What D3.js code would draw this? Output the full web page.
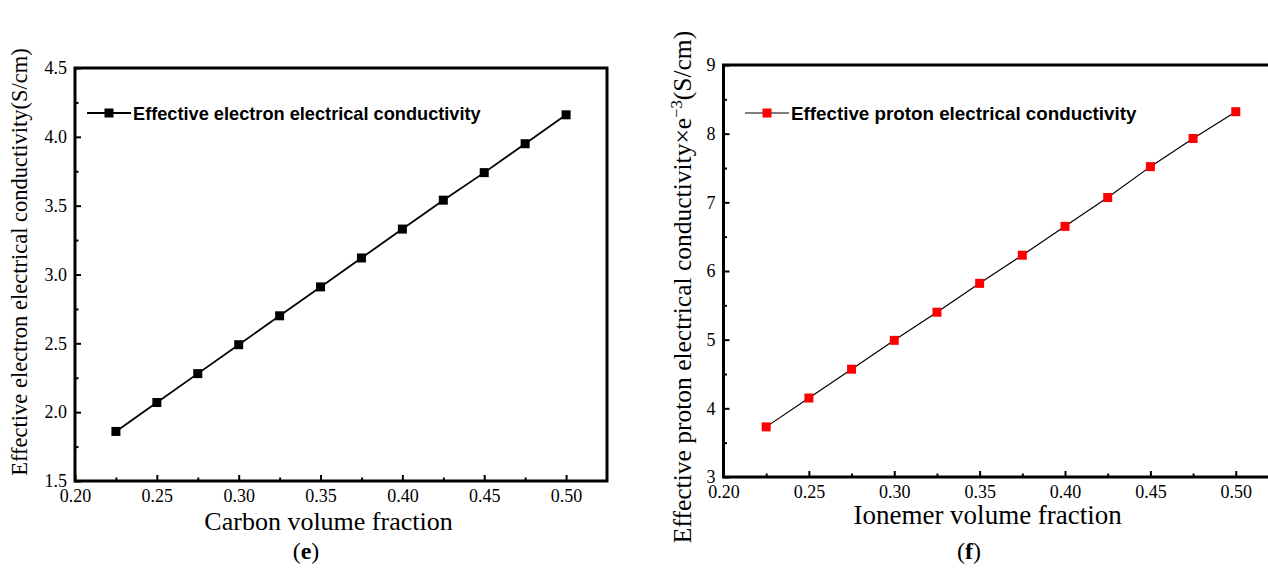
<!DOCTYPE html>
<html>
<head>
<meta charset="utf-8">
<script src="https://cdn.jsdelivr.net/npm/d3@7"></script>
<style>
  body { margin: 0; background: #fff; }
  svg { display: block; }
  .tick text { font-family: 'Liberation Serif', 'Times New Roman', serif; font-size: 18px; }
</style>
</head>
<body>
<div id="chart"></div>
<script>
/* Effective electron / proton conductivity vs volume fraction, panels (e) and (f) */

const fractions = [0.225, 0.25, 0.275, 0.30, 0.325, 0.35, 0.375, 0.40, 0.425, 0.45, 0.475, 0.50];
const electronValues = [1.86, 2.07, 2.28, 2.49, 2.70, 2.91, 3.12, 3.33, 3.54, 3.74, 3.95, 4.16];
const protonValues = [3.73, 4.15, 4.57, 4.99, 5.40, 5.82, 6.23, 6.65, 7.07, 7.52, 7.93, 8.32];
const xTicks = [0.20, 0.25, 0.30, 0.35, 0.40, 0.45, 0.50];
const xMinorTicks = [0.225, 0.275, 0.325, 0.375, 0.425, 0.475];
const electronTicks = [1.5, 2.0, 2.5, 3.0, 3.5, 4.0, 4.5];
const electronMinor = [1.75, 2.25, 2.75, 3.25, 3.75, 4.25];
const protonTicks = [3, 4, 5, 6, 7, 8, 9];
const protonMinor = [3.5, 4.5, 5.5, 6.5, 7.5, 8.5];

const width = 1268,
      height = 585;

const serif = "'Liberation Serif', 'Times New Roman', serif";

let svg = d3.select("#chart")
    .append("svg")
    .attr("width", width)
    .attr("height", height);

function drawPanel(p) {
    let x = d3.scaleLinear().domain(p.xDomain).range([p.left, p.right]);
    let y = d3.scaleLinear().domain(p.yDomain).range([p.bottom, p.top]);
    let g = svg.append("g");

    // minor + major ticks, pointing inward
    g.append("g")
        .attr("transform", `translate(0,${p.bottom})`)
        .call(d3.axisBottom(x).tickValues(xMinorTicks).tickSize(-3.5).tickFormat(""))
        .call(a => a.select(".domain").remove());
    g.append("g")
        .attr("transform", `translate(0,${p.bottom})`)
        .call(d3.axisBottom(x).tickValues(xTicks).tickSize(-6).tickPadding(8).tickFormat(d3.format(".2f")))
        .call(a => a.select(".domain").remove())
        .call(a => a.attr("font-family", serif).attr("font-size", 18));
    g.append("g")
        .attr("transform", `translate(${p.left},0)`)
        .call(d3.axisLeft(y).tickValues(p.yMinor).tickSize(-3.5).tickFormat(""))
        .call(a => a.select(".domain").remove());
    g.append("g")
        .attr("transform", `translate(${p.left},0)`)
        .call(d3.axisLeft(y).tickValues(p.yTicks).tickSize(-6).tickPadding(8).tickFormat(p.yFormat))
        .call(a => a.select(".domain").remove())
        .call(a => a.attr("font-family", serif).attr("font-size", 18));

    g.selectAll(".tick line").attr("stroke", "#000").attr("stroke-width", 2);
    g.selectAll(".tick text").attr("fill", "#000");

    // frame
    g.append("rect")
        .attr("x", p.left)
        .attr("y", p.top)
        .attr("width", p.right - p.left)
        .attr("height", p.bottom - p.top)
        .attr("fill", "none")
        .attr("stroke", "#000")
        .attr("stroke-width", 3);

    // series
    let line = d3.line().x(d => x(d[0])).y(d => y(d[1]));
    let pts = p.xs.map((v, i) => [v, p.ys[i]]);
    g.append("path")
        .datum(pts)
        .attr("d", line)
        .attr("fill", "none")
        .attr("stroke", "#000")
        .attr("stroke-width", p.lineWidth);
    g.selectAll(".pt")
        .data(pts)
        .join("rect")
        .attr("x", d => x(d[0]) - 4.5)
        .attr("y", d => y(d[1]) - 4.5)
        .attr("width", 9)
        .attr("height", 9)
        .attr("fill", p.color);

    // legend
    g.append("line")
        .attr("x1", p.legX).attr("x2", p.legX + 44)
        .attr("y1", p.legY).attr("y2", p.legY)
        .attr("stroke", "#000").attr("stroke-width", p.lineWidth);
    g.append("rect")
        .attr("x", p.legX + 22 - 4.5).attr("y", p.legY - 4.5)
        .attr("width", 9).attr("height", 9)
        .attr("fill", p.color);
    g.append("text")
        .attr("x", p.legX + 46)
        .attr("y", p.legY + 6.5)
        .style("font-family", "'Liberation Sans', Arial, sans-serif")
        .style("font-weight", "bold")
        .style("font-size", p.legSize + "px")
        .text(p.legend);

    // axis titles
    g.append("text")
        .attr("x", (x(0.20) + x(0.50)) / 2 + p.xTitleShift)
        .attr("y", p.bottom + p.xTitleDy)
        .attr("text-anchor", "middle")
        .style("font-family", serif)
        .style("font-size", p.xTitleSize + "px")
        .text(p.xTitle);

    let yt = g.append("text")
        .attr("transform", `translate(${p.yTitleX},${p.yTitleY}) rotate(-90)`)
        .attr("text-anchor", "middle")
        .style("font-family", serif)
        .style("font-size", p.yTitleSize + "px");
    p.yTitle.forEach(part => {
        let ts = yt.append("tspan").text(part.t);
        if (part.sup) ts.attr("baseline-shift", "super").style("font-size", "0.65em");
    });

    // panel label
    let lab = g.append("text")
        .attr("x", p.labelX)
        .attr("y", 559)
        .attr("text-anchor", "middle")
        .style("font-family", serif)
        .style("font-size", "24px");
    lab.append("tspan").text("(");
    lab.append("tspan").style("font-weight", "bold").text(p.label);
    lab.append("tspan").text(")");
}

drawPanel({
    xDomain: [0.20, 0.525], yDomain: [1.5, 4.5],
    left: 75, right: 607, top: 68, bottom: 481,
    xs: fractions, ys: electronValues,
    yTicks: electronTicks, yMinor: electronMinor, yFormat: d3.format(".1f"),
    color: "#000", lineWidth: 1.8,
    legX: 87, legY: 113, legSize: 18.2, legend: "Effective electron electrical conductivity",
    xTitle: "Carbon volume fraction", xTitleShift: 8, xTitleSize: 26, xTitleDy: 49,
    yTitle: [{t: "Effective electron electrical conductivity(S/cm)"}],
    yTitleX: 27, yTitleY: 262, yTitleSize: 22.5,
    labelX: 306, label: "e"
});

drawPanel({
    xDomain: [0.20, 0.53], yDomain: [3, 9],
    left: 723.5, right: 1287, top: 65, bottom: 477,
    xs: fractions, ys: protonValues,
    yTicks: protonTicks, yMinor: protonMinor, yFormat: d3.format("d"),
    color: "#ff0000", lineWidth: 1.2,
    legX: 745, legY: 113, legSize: 18.8, legend: "Effective proton electrical conductivity",
    xTitle: "Ionemer volume fraction", xTitleShift: 8, xTitleSize: 27, xTitleDy: 47,
    yTitle: [{t: "Effective proton electrical conductivity×e"}, {t: "−3", sup: true}, {t: "(S/cm)"}],
    yTitleX: 691, yTitleY: 287, yTitleSize: 25.5,
    labelX: 969, label: "f"
});
</script>
</body>
</html>
